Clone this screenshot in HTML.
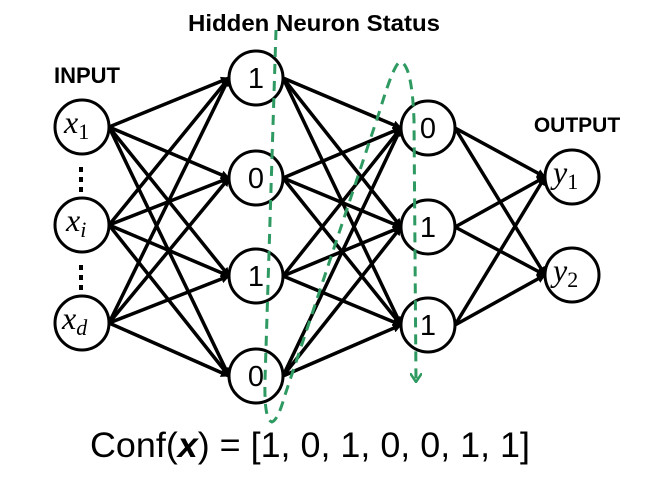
<!DOCTYPE html>
<html><head><style>body{margin:0;background:#fff}svg{display:block}</style></head><body>
<svg width="653" height="487" viewBox="0 0 653 487" xmlns="http://www.w3.org/2000/svg">
<defs><marker id="a" markerWidth="9" markerHeight="9" refX="8" refY="4.5" orient="auto" markerUnits="userSpaceOnUse"><path d="M0,0 L9,4.5 L0,9 Z" fill="#000"/></marker>
<marker id="g" markerWidth="12" markerHeight="10" refX="6" refY="9" orient="0" markerUnits="userSpaceOnUse"><path d="M0,0 L6,9 L12,0" fill="none" stroke="#2e9a62" stroke-width="2.5"/></marker></defs>
<g stroke="#000" stroke-width="3.5" marker-end="url(#a)">
<line x1="109" y1="127" x2="229" y2="78"/><line x1="109" y1="127" x2="229" y2="178"/><line x1="109" y1="127" x2="229" y2="276"/><line x1="109" y1="127" x2="229" y2="376"/>
<line x1="109" y1="225" x2="229" y2="78"/><line x1="109" y1="225" x2="229" y2="178"/><line x1="109" y1="225" x2="229" y2="276"/><line x1="109" y1="225" x2="229" y2="376"/>
<line x1="109" y1="323" x2="229" y2="78"/><line x1="109" y1="323" x2="229" y2="178"/><line x1="109" y1="323" x2="229" y2="276"/><line x1="109" y1="323" x2="229" y2="376"/>
<line x1="283" y1="78" x2="401" y2="128"/><line x1="283" y1="78" x2="401" y2="227"/><line x1="283" y1="78" x2="401" y2="325"/>
<line x1="283" y1="178" x2="401" y2="128"/><line x1="283" y1="178" x2="401" y2="227"/><line x1="283" y1="178" x2="401" y2="325"/>
<line x1="283" y1="276" x2="401" y2="128"/><line x1="283" y1="276" x2="401" y2="227"/><line x1="283" y1="276" x2="401" y2="325"/>
<line x1="283" y1="376" x2="401" y2="128"/><line x1="283" y1="376" x2="401" y2="227"/><line x1="283" y1="376" x2="401" y2="325"/>
<line x1="455" y1="128" x2="545" y2="177"/><line x1="455" y1="128" x2="545" y2="275"/>
<line x1="455" y1="227" x2="545" y2="177"/><line x1="455" y1="227" x2="545" y2="275"/>
<line x1="455" y1="325" x2="545" y2="177"/><line x1="455" y1="325" x2="545" y2="275"/>
</g>
<g fill="#fff" stroke="#000" stroke-width="3">
<circle cx="82" cy="127" r="27"/><circle cx="82" cy="225" r="27"/><circle cx="82" cy="323" r="27"/>
<circle cx="256" cy="78" r="27"/><circle cx="256" cy="178" r="27"/><circle cx="256" cy="276" r="27"/><circle cx="256" cy="376" r="27"/>
<circle cx="428" cy="128" r="27"/><circle cx="428" cy="227" r="27"/><circle cx="428" cy="325" r="27"/>
<circle cx="572" cy="177" r="27"/><circle cx="572" cy="275" r="27"/>
</g>
<path d="M276,30 L265,380 Q264,420 272,422 Q278,420 285,395 L380,110 Q395,60 401,62 Q412,66 414,120 L416,382" fill="none" stroke="#2e9a62" stroke-width="3" stroke-dasharray="10,7" marker-end="url(#g)"/>
<g fill="#000" stroke="none">
<rect x="79" y="167" width="4" height="5"/><rect x="79" y="177" width="4" height="5"/><rect x="79" y="187" width="4" height="5"/>
<rect x="79" y="265" width="4" height="5"/><rect x="79" y="275" width="4" height="5"/><rect x="79" y="285" width="4" height="5"/>
</g>
<g font-family="Liberation Sans, sans-serif" text-anchor="middle">
<text x="314" y="31" font-size="23" font-weight="bold" textLength="252" lengthAdjust="spacingAndGlyphs">Hidden Neuron Status</text>
<text x="87" y="83" font-size="22" font-weight="bold">INPUT</text>
<text x="577" y="132" font-size="21" font-weight="bold">OUTPUT</text>
<g font-size="29"><text x="256" y="88">1</text><text x="256" y="188">0</text><text x="256" y="286">1</text><text x="256" y="386">0</text>
<text x="428" y="138">0</text><text x="428" y="237">1</text><text x="428" y="335">1</text></g>
</g>
<g font-family="Liberation Serif, serif" font-style="italic" font-size="32">
<text x="64" y="133">x<tspan font-size="22" font-style="normal" dy="6">1</tspan></text>
<text x="66" y="231">x<tspan font-size="22" dy="6">i</tspan></text>
<text x="62" y="329">x<tspan font-size="22" dy="6">d</tspan></text>
<text x="553" y="183">y<tspan font-size="22" font-style="normal" dy="6">1</tspan></text>
<text x="553" y="281">y<tspan font-size="22" font-style="normal" dy="6">2</tspan></text>
</g>
<text x="90" y="457" font-family="Liberation Sans, sans-serif" font-size="35" textLength="440" lengthAdjust="spacingAndGlyphs">Conf(<tspan font-weight="bold" font-style="italic">x</tspan>) = [1, 0, 1, 0, 0, 1, 1]</text>
</svg>
</body></html>
